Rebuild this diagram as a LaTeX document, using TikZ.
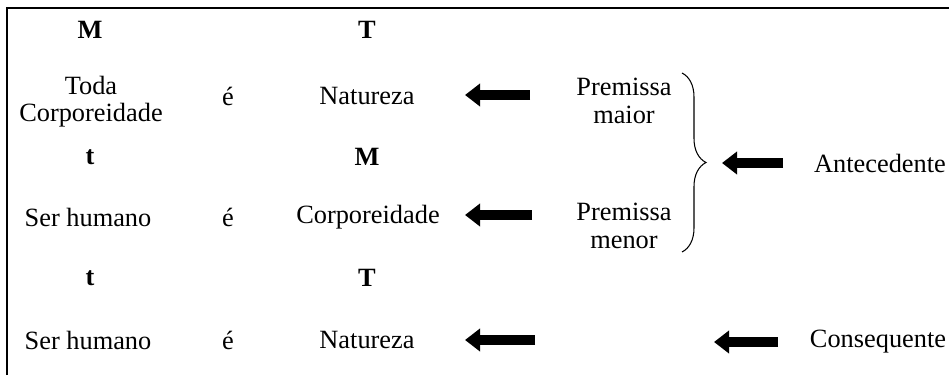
\documentclass[tikz,border=0pt]{standalone}
\usepackage{fontspec}
\setmainfont{Liberation Serif}
\usetikzlibrary{arrows.meta,decorations.pathreplacing}
\tikzset{
  txt/.style={inner sep=0pt, align=center, font=\fontsize{15}{15.5}\selectfont},
  term/.style={inner sep=0pt, font=\fontsize{15}{15.5}\selectfont\bfseries},
  fatarrow/.style={line width=0.2cm, -{Triangle[length=0.3cm,width=0.44cm]}},
}
\begin{document}
\begin{tikzpicture}[x=0.02cm, y=-0.02cm]
    \useasboundingbox (0,0) rectangle (949,375);
    \draw[line width=1.2pt] (7,375) -- (7,8) -- (949,8);
    % first premise
    \node[term] (m1) at (90,30) {M};
    \node[term] (T1) at (367,30) {T};
    \node[txt] (toda) at (91,102) {Toda\\Corporeidade};
    \node[txt] (e1) at (228,96) {é};
    \node[txt] (nat1) at (367,96) {Natureza};
    \node[txt] (pmaior) at (624,101) {Premissa\\maior};
    % second premise
    \node[term] (t2) at (90,157) {t};
    \node[term] (m2) at (367,157) {M};
    \node[txt] (ser2) at (88,217) {Ser humano};
    \node[txt] (e2) at (228,217) {é};
    \node[txt] (corp2) at (368,217) {Corporeidade};
    \node[txt] (pmenor) at (624,226) {Premissa\\menor};
    % conclusion
    \node[term] (t3) at (90,278) {t};
    \node[term] (T3) at (367,278) {T};
    \node[txt] (ser3) at (88,340) {Ser humano};
    \node[txt] (e3) at (228,340) {é};
    \node[txt] (nat3) at (367,340) {Natureza};
    \node[txt] (ant) at (880,163) {Antecedente};
    \node[txt] (cons) at (878,342) {Consequente};
    % arrows
    \coordinate (a1s) at (530,95);   \coordinate (a1e) at (465,95);
    \coordinate (a2s) at (532,215);  \coordinate (a2e) at (465,215);
    \coordinate (a3s) at (535,340);  \coordinate (a3e) at (465,340);
    \coordinate (a4s) at (783,163);  \coordinate (a4e) at (722,163);
    \coordinate (a5s) at (778,342);  \coordinate (a5e) at (714,342);
    \draw[fatarrow] (a1s) -- (a1e);
    \draw[fatarrow] (a2s) -- (a2e);
    \draw[fatarrow] (a3s) -- (a3e);
    \draw[fatarrow] (a4s) -- (a4e);
    \draw[fatarrow] (a5s) -- (a5e);
    % brace
    \coordinate (bt) at (682,73);
    \coordinate (bb) at (682,252);
    \draw[line width=0.6pt, decorate, decoration={brace, amplitude=0.48cm}] (bt) -- (bb);
\end{tikzpicture}
\end{document}
